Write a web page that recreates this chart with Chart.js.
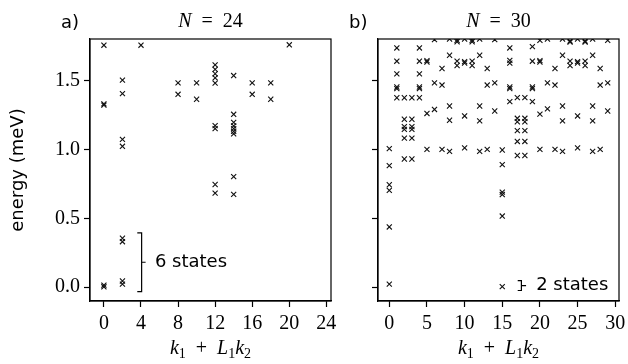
<!DOCTYPE html>
<html>
<head>
<meta charset="utf-8">
<script src="https://cdn.jsdelivr.net/npm/chart.js@4.4.0/dist/chart.umd.min.js"></script>
<style>
  html, body { margin: 0; padding: 0; background: #fff; }
  #wrap { position: relative; width: 628px; height: 364px; }
  canvas { position: absolute; top: 0; }
</style>
</head>
<body>
<div id="wrap">
  <canvas id="left" width="340" height="364" style="left:0;width:340px;height:364px"></canvas>
  <canvas id="right" width="288" height="364" style="left:340px;width:288px;height:364px"></canvas>
</div>
<script>
// momentum sectors and energies (meV)
const kLeft = [0, 2, 4, 8, 10, 12, 14, 16, 18, 20];
const energiesLeft = [
  [1.755, 1.330, 1.320, 0.015, 0.003],
  [1.502, 1.404, 1.072, 1.022, 0.355, 0.330, 0.045, 0.022],
  [1.755],
  [1.482, 1.399],
  [1.482, 1.363],
  [1.612, 1.580, 1.548, 1.518, 1.480, 1.172, 1.150, 0.745, 0.682],
  [1.535, 1.254, 1.195, 1.170, 1.150, 1.130, 1.112, 0.802, 0.673],
  [1.482, 1.399],
  [1.482, 1.363],
  [1.758]
];

const kRight = [0, 1, 2, 3, 4, 5, 6, 7, 8, 9, 10, 11, 12, 13, 14,
                15, 16, 17, 18, 19, 20, 21, 22, 23, 24, 25, 26, 27, 28, 29];
const energiesRight = [
  [1.005, 0.882, 0.743, 0.702, 0.437, 0.022],
  [1.735, 1.639, 1.547, 1.452, 1.440, 1.374],
  [1.374, 1.218, 1.165, 1.145, 1.081, 0.930],
  [1.374, 1.218, 1.165, 1.145, 1.081, 0.930],
  [1.735, 1.639, 1.547, 1.452, 1.440, 1.374],
  [1.643, 1.633, 1.260, 1.000],
  [1.795, 1.482, 1.289],
  [1.586, 1.466, 1.000],
  [1.800, 1.682, 1.314, 1.211, 0.985],
  [1.790, 1.780, 1.640, 1.608],
  [1.800, 1.636, 1.626, 1.242, 1.010],
  [1.790, 1.780, 1.640, 1.608],
  [1.800, 1.682, 1.314, 1.206, 0.985],
  [1.586, 1.466, 1.000],
  [1.795, 1.482, 1.278],
  [0.995, 0.889, 0.690, 0.672, 0.516, 0.004],
  [1.735, 1.645, 1.625, 1.452, 1.440, 1.346],
  [1.375, 1.225, 1.200, 1.136, 1.057, 0.955],
  [1.375, 1.225, 1.200, 1.136, 1.057, 0.955],
  [1.745, 1.639, 1.452, 1.440, 1.346],
  [1.790, 1.643, 1.633, 1.255, 1.000],
  [1.800, 1.482, 1.293],
  [1.586, 1.466, 1.000],
  [1.800, 1.682, 1.314, 1.206, 0.985],
  [1.785, 1.778, 1.640, 1.608],
  [1.800, 1.636, 1.626, 1.242, 1.010],
  [1.785, 1.778, 1.640, 1.608],
  [1.800, 1.682, 1.314, 1.206, 0.985],
  [1.586, 1.466, 1.000],
  [1.790, 1.482, 1.278]
];

const xTicksLeft = [0, 4, 8, 12, 16, 20, 24];
const xTicksRight = [0, 5, 10, 15, 20, 25, 30];
const yTicks = [0.0, 0.5, 1.0, 1.5];

const SERIF = '"Liberation Serif", "DejaVu Serif", serif';
const SANS = '"DejaVu Sans", sans-serif';

function toPoints(ks, energies) {
  const pts = [];
  ks.forEach((k, i) => energies[i].forEach(e => pts.push({x: k, y: e})));
  return pts;
}

// draw a row of text pieces (italic / subscript) centred on cx
function drawRuns(ctx, runs, cx, baseline) {
  const size = 20, subSize = 14;
  const fontOf = r => (r.it ? 'italic ' : '') + (r.sub ? subSize : size) + 'px ' + SERIF;
  let total = 0;
  runs.forEach(r => { ctx.font = fontOf(r); total += ctx.measureText(r.t).width; });
  let x = cx - total / 2;
  ctx.textAlign = 'left';
  ctx.textBaseline = 'alphabetic';
  runs.forEach(r => {
    ctx.font = fontOf(r);
    ctx.fillText(r.t, x, baseline + (r.sub ? 4 : 0));
    x += ctx.measureText(r.t).width;
  });
}

const xLabelRuns = [
  {t: 'k', it: true}, {t: '1', sub: true}, {t: '  +  '},
  {t: 'L', it: true}, {t: '1', sub: true},
  {t: 'k', it: true}, {t: '2', sub: true}
];

const panelDecor = {
  id: 'panelDecor',
  afterDraw(chart, args, opts) {
    const {ctx, chartArea: a, scales} = chart;
    const cx = (a.left + a.right) / 2;
    ctx.save();
    ctx.strokeStyle = '#000';
    ctx.fillStyle = '#000';
    ctx.lineWidth = 1.2;
    ctx.strokeRect(a.left, a.top, a.right - a.left, a.bottom - a.top);

    // panel letter
    ctx.font = '18px ' + SANS;
    ctx.textAlign = 'left';
    ctx.textBaseline = 'alphabetic';
    ctx.fillText(opts.letter, a.left - 29, 28);

    // title N = ..
    drawRuns(ctx, [{t: 'N', it: true}, {t: '  =  ' + opts.n}], cx, 27);
    // x axis label
    drawRuns(ctx, xLabelRuns, cx, 354);

    if (opts.yLabel) {
      ctx.save();
      ctx.translate(18, (a.top + a.bottom) / 2);
      ctx.rotate(-Math.PI / 2);
      ctx.font = '18px ' + SANS;
      ctx.textAlign = 'center';
      ctx.textBaseline = 'middle';
      ctx.fillText(opts.yLabel, 0, 0);
      ctx.restore();
    }

    const b = opts.bracket;
    if (b) {
      const xs = scales.x, ys = scales.y;
      const xv = xs.getPixelForValue(b.x);
      const xa = xs.getPixelForValue(b.arm);
      const xt = xs.getPixelForValue(b.tick);
      const yt = ys.getPixelForValue(b.top);
      const yb = ys.getPixelForValue(b.bottom);
      const ym = (yt + yb) / 2;
      ctx.beginPath();
      ctx.moveTo(xa, yt); ctx.lineTo(xv, yt); ctx.lineTo(xv, yb); ctx.lineTo(xa, yb);
      ctx.moveTo(xv, ym); ctx.lineTo(xt, ym);
      ctx.stroke();
      ctx.font = '18px ' + SANS;
      ctx.textAlign = 'left';
      ctx.textBaseline = 'middle';
      ctx.fillText(b.label, xs.getPixelForValue(b.textX), ym);
    }
    ctx.restore();
  }
};

function makeChart(id, ks, energies, xMin, xMax, xTicks, yWidth, decor) {
  const axisGrid = {
    display: true, drawOnChartArea: false, drawTicks: true,
    tickLength: 6, tickWidth: 1.2, tickColor: '#000', color: '#000'
  };
  return new Chart(document.getElementById(id), {
    type: 'scatter',
    data: {
      datasets: [{
        data: toPoints(ks, energies),
        pointStyle: 'crossRot',
        pointRadius: 3.6,
        pointBorderWidth: 1.1,
        borderColor: '#111',
        backgroundColor: '#111',
        clip: 0
      }]
    },
    options: {
      responsive: false,
      animation: false,
      events: [],
      layout: {padding: {left: 0, right: 9, top: 39, bottom: 0}},
      plugins: {
        legend: {display: false},
        tooltip: {enabled: false},
        panelDecor: decor
      },
      scales: {
        x: {
          type: 'linear', min: xMin, max: xMax,
          afterBuildTicks: s => { s.ticks = xTicks.map(v => ({value: v})); },
          afterFit: s => { s.height = 63; s.paddingLeft = 0; s.paddingRight = 0; },
          grid: axisGrid,
          border: {display: true, color: '#000', width: 1.2},
          ticks: {
            color: '#000', padding: 5, maxRotation: 0, autoSkip: false,
            font: {family: SERIF, size: 20},
            callback: v => String(v)
          }
        },
        y: {
          type: 'linear', min: -0.1, max: 1.8,
          afterBuildTicks: s => { s.ticks = yTicks.map(v => ({value: v})); },
          afterFit: s => { s.width = yWidth; s.paddingTop = 0; s.paddingBottom = 0; },
          grid: axisGrid,
          border: {display: true, color: '#000', width: 1.2},
          ticks: {
            color: '#000', padding: 4, autoSkip: false,
            font: {family: SERIF, size: 20},
            callback: v => decor.yLabel ? v.toFixed(1) : ''
          }
        }
      }
    },
    plugins: [panelDecor]
  });
}

makeChart('left', kLeft, energiesLeft, -1.5, 24.5, xTicksLeft, 90, {
  letter: 'a)', n: '24', yLabel: 'energy (meV)',
  bracket: {x: 4.07, arm: 3.6, tick: 4.5, top: 0.394, bottom: -0.032, textX: 5.5, label: '6 states'}
});
makeChart('right', kRight, energiesRight, -1.5, 30.5, xTicksRight, 38, {
  letter: 'b)', n: '30', yLabel: null,
  bracket: {x: 17.54, arm: 17.05, tick: 18.16, top: 0.048, bottom: -0.024, textX: 19.5, label: '2 states'}
});
</script>
</body>
</html>
